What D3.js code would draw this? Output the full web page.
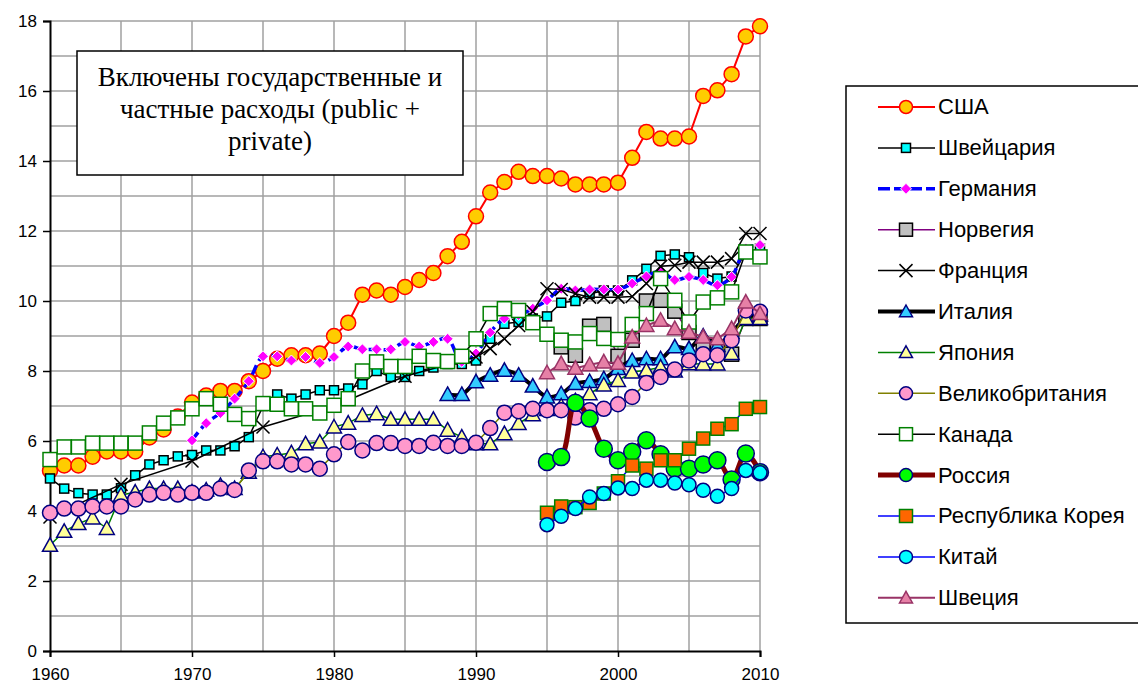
<!DOCTYPE html>
<html>
<head>
<meta charset="utf-8">
<script src="https://cdn.jsdelivr.net/npm/d3@7"></script>
<style>
  body { margin: 0; background: #fff; }
</style>
</head>
<body>
<div id="chart"></div>
<script>
// health spending, % of GDP
const xTicks = [1960, 1970, 1980, 1990, 2000, 2010];
const yTicks = [0, 2, 4, 6, 8, 10, 12, 14, 16, 18];

const usaStart = 1960;
const usa = [5.15, 5.3, 5.3, 5.55, 5.7, 5.7, 5.7, 6.1, 6.33, 6.7, 7.1, 7.3, 7.43, 7.43, 7.71, 8.0, 8.35, 8.45, 8.45, 8.5,
  9.0, 9.38, 10.18, 10.3, 10.18, 10.4, 10.6, 10.8, 11.28, 11.69, 12.42, 13.1, 13.4, 13.69, 13.57, 13.57, 13.5, 13.33, 13.33, 13.33,
  13.38, 14.09, 14.83, 14.64, 14.64, 14.7, 15.86, 16.02, 16.48, 17.56, 17.85];
const swissStart = 1960;
const swiss = [4.93, 4.64, 4.51, 4.47, 4.47, 4.65, 5.02, 5.33, 5.45, 5.56, 5.6, 5.73, 5.73, 5.85, 6.11, 7.0, 7.33, 7.21, 7.33, 7.45,
  7.45, 7.5, 7.62, 8.0, 7.83, 7.83, 8.0, 8.1, 8.2, 8.2, 8.3, 8.92, 9.35, 9.4, 9.5, 9.56, 9.95, 10.0, 10.2, 10.3,
  10.3, 10.59, 10.92, 11.29, 11.33, 11.25, 10.8, 10.64, 10.7, 11.4, 11.5];
const germanyStart = 1970;
const germany = [6.02, 6.51, 6.8, 7.21, 7.71, 8.42, 8.42, 8.3, 8.4, 8.23, 8.4, 8.7, 8.62, 8.62, 8.62, 8.83, 8.7, 8.83, 8.92, 8.26,
  8.5, 9.1, 9.5, 9.6, 9.78, 10.02, 10.35, 10.3, 10.33, 10.33, 10.33, 10.5, 10.7, 10.85, 10.6, 10.69, 10.6, 10.45, 10.69, 11.5, 11.6];
const norwayStart = 1996;
const norway = [8.69, 8.45, 9.28, 9.33, 8.42, 8.88, 10.0, 10.02, 9.71, 9.1, 8.69, 8.69, 8.48, 9.5, 9.5];
const franceYears = [1960, 1965, 1970, 1975, 1980, 1985, 1990, 1991, 1992, 1993, 1994, 1995, 1996, 1997, 1998, 1999,
  2000, 2001, 2002, 2003, 2004, 2005, 2006, 2007, 2008, 2009, 2010];
const france = [3.83, 4.76, 5.43, 6.4, 7.0, 7.85, 8.4, 8.64, 8.92, 9.3, 9.7, 10.35, 10.33, 10.21, 10.11, 10.11,
  10.11, 10.13, 10.5, 10.99, 11.02, 11.11, 11.11, 11.11, 11.21, 11.93, 11.93];
const italyStart = 1988;
const italy = [7.33, 7.33, 7.69, 7.88, 8.02, 7.88, 7.57, 7.26, 7.35, 7.64, 7.7, 7.78, 8.07, 8.3, 8.35, 8.35, 8.69, 8.64, 9.0, 8.73, 9.1, 9.5, 9.6];
const japanStart = 1960;
const japan = [3.02, 3.42, 3.64, 3.8, 3.5, 4.45, 4.54, 4.64, 4.64, 4.64, 4.54, 4.6, 4.73, 4.64, 5.11, 5.55, 5.6, 5.66, 5.92, 5.97,
  6.4, 6.51, 6.73, 6.78, 6.62, 6.62, 6.62, 6.62, 6.31, 6.11, 5.92, 5.92, 6.21, 6.5, 6.75, 6.9, 7.0, 7.15, 7.35, 7.6,
  7.73, 7.97, 8.02, 8.11, 8.0, 8.21, 8.2, 8.2, 8.5, 9.5, 9.5];
const ukStart = 1960;
const uk = [3.95, 4.07, 4.07, 4.13, 4.13, 4.13, 4.33, 4.47, 4.52, 4.47, 4.52, 4.52, 4.64, 4.6, 5.16, 5.42, 5.42, 5.33, 5.33, 5.21,
  5.62, 5.97, 5.73, 5.94, 5.94, 5.86, 5.86, 5.95, 5.86, 5.86, 5.95, 6.37, 6.81, 6.85, 6.92, 6.88, 6.88, 6.67, 6.88, 6.92,
  7.05, 7.26, 7.66, 7.83, 8.04, 8.3, 8.48, 8.45, 8.88, 9.73, 9.69];
const canadaStart = 1960;
const canada = [5.47, 5.83, 5.83, 5.94, 5.94, 5.94, 5.94, 6.23, 6.51, 6.66, 6.92, 7.21, 7.05, 6.76, 6.64, 7.07, 7.05, 6.92, 6.92, 6.8,
  7.02, 7.21, 8.0, 8.26, 8.13, 8.13, 8.42, 8.3, 8.27, 8.42, 8.92, 9.64, 9.78, 9.73, 9.38, 9.05, 8.88, 8.83, 9.07, 8.93,
  8.9, 9.33, 9.64, 10.64, 10.02, 9.4, 9.97, 10.09, 10.26, 11.4, 11.26];
const russiaStart = 1995;
const russia = [5.4, 5.54, 7.09, 6.64, 5.78, 5.45, 5.69, 6.02, 5.62, 5.21, 5.21, 5.33, 5.45, 4.9, 5.64, 5.11];
const koreaStart = 1995;
const korea = [3.95, 4.13, 4.11, 4.23, 4.5, 4.85, 5.3, 5.21, 5.45, 5.45, 5.78, 6.07, 6.35, 6.48, 6.92, 6.97];
const chinaStart = 1995;
const china = [3.61, 3.85, 4.07, 4.4, 4.5, 4.66, 4.64, 4.88, 4.88, 4.8, 4.75, 4.59, 4.42, 4.64, 5.16, 5.09];
const swedenStart = 1995;
const sweden = [7.95, 8.21, 8.08, 8.18, 8.26, 8.22, 8.97, 9.3, 9.45, 9.21, 9.11, 8.97, 8.92, 9.21, 9.97, 9.64];

const noteLines = ["Включены государственные и", "частные расходы (public +", "private)"];

function fromStart(start, vals) {
  return vals.map((v, i) => ({ year: start + i, value: v }));
}

// legend order = drawing order
const series = [
  { name: "США", data: fromStart(usaStart, usa), line: "#ff0000", lw: 2, marker: "circle", size: 7.5, fill: "#ffcc00", stroke: "#ff0000" },
  { name: "Швейцария", data: fromStart(swissStart, swiss), line: "#000000", lw: 1.5, marker: "square", size: 4.5, fill: "#00ffff", stroke: "#000000" },
  { name: "Германия", data: fromStart(germanyStart, germany), line: "#0000ff", lw: 3.5, dash: "10,5", curve: true, marker: "diamond", size: 5.5, fill: "#ff00ff", stroke: "#ffffff" },
  { name: "Норвегия", data: fromStart(norwayStart, norway), line: "#800080", lw: 1.5, marker: "square", size: 7, fill: "#c0c0c0", stroke: "#000000" },
  { name: "Франция", data: franceYears.map((yr, i) => ({ year: yr, value: france[i] })), line: "#000000", lw: 1.5, marker: "x", size: 6.5, fill: "none", stroke: "#000000" },
  { name: "Италия", data: fromStart(italyStart, italy), line: "#000000", lw: 4, curve: true, marker: "triangle", size: 7.5, fill: "#33ccff", stroke: "#000080" },
  { name: "Япония", data: fromStart(japanStart, japan), line: "#008000", lw: 1.5, marker: "triangle", size: 7.5, fill: "#ffff99", stroke: "#000080" },
  { name: "Великобритания", data: fromStart(ukStart, uk), line: "#808000", lw: 1.5, marker: "circle", size: 7.5, fill: "#ff99cc", stroke: "#000080" },
  { name: "Канада", data: fromStart(canadaStart, canada), line: "#000000", lw: 1.5, marker: "square", size: 7, fill: "#ffffff", stroke: "#008000" },
  { name: "Россия", data: fromStart(russiaStart, russia), line: "#800000", lw: 5, curve: true, marker: "circle", size: 8.5, fill: "#00ff00", stroke: "#000080" },
  { name: "Республика Корея", data: fromStart(koreaStart, korea), line: "#0000ff", lw: 1.5, marker: "square", size: 6.5, fill: "#ff6600", stroke: "#008000" },
  { name: "Китай", data: fromStart(chinaStart, china), line: "#0000ff", lw: 1.5, marker: "circle", size: 7, fill: "#00ffff", stroke: "#000080" },
  { name: "Швеция", data: fromStart(swedenStart, sweden), line: "#993366", lw: 2, marker: "triangle", size: 7.5, fill: "#e680a6", stroke: "#993366" }
];

const W = 1138, H = 684;
const plotLeft = 50, plotRight = 760, plotTop = 21, plotBottom = 651;
const sans = "'Liberation Sans', Arial, sans-serif";

const svg = d3.select("#chart").append("svg").attr("width", W).attr("height", H);

const x = d3.scaleLinear().domain([1960, 2010]).range([plotLeft, plotRight]);
const y = d3.scaleLinear().domain([0, 18]).range([plotBottom, plotTop]);

// grid
svg.append("g")
  .selectAll("line")
  .data(d3.range(1, 19))
  .enter()
  .append("line")
  .attr("x1", plotLeft).attr("x2", plotRight)
  .attr("y1", (d) => y(d)).attr("y2", (d) => y(d))
  .attr("stroke", "#a0a0a0").attr("stroke-width", 1.5);

svg.append("g")
  .selectAll("line")
  .data(d3.range(1965, 2011, 5))
  .enter()
  .append("line")
  .attr("x1", (d) => x(d)).attr("x2", (d) => x(d))
  .attr("y1", plotTop).attr("y2", plotBottom)
  .attr("stroke", "#a0a0a0").attr("stroke-width", 1.5);

// axes
const yAxis = d3.axisLeft(y).tickValues(yTicks).tickSize(7).tickPadding(6);
const gy = svg.append("g").attr("transform", "translate(" + plotLeft + ",0)").call(yAxis);
const xAxis = d3.axisBottom(x).tickValues(xTicks).tickSize(6).tickPadding(7).tickFormat(d3.format("d"));
const gx = svg.append("g").attr("transform", "translate(0," + plotBottom + ")").call(xAxis);
[gx, gy].forEach((g) => {
  g.select(".domain").attr("stroke", "#000").attr("stroke-width", 2);
  g.selectAll(".tick line").attr("stroke", "#000").attr("stroke-width", 1.5);
  g.selectAll("text").attr("font-size", 17).attr("fill", "#000").attr("font-family", sans);
});
gx.selectAll("text").attr("dy", "0.95em");

function drawMarker(g, s, cx, cy) {
  const r = s.size;
  if (s.marker === "circle") {
    g.append("circle").attr("cx", cx).attr("cy", cy).attr("r", r)
      .attr("fill", s.fill).attr("stroke", s.stroke).attr("stroke-width", 1.5);
  } else if (s.marker === "square") {
    g.append("rect").attr("x", cx - r).attr("y", cy - r).attr("width", 2 * r).attr("height", 2 * r)
      .attr("fill", s.fill).attr("stroke", s.stroke).attr("stroke-width", 1.5);
  } else if (s.marker === "triangle") {
    g.append("path")
      .attr("d", "M" + cx + "," + (cy - r) + "L" + (cx + r) + "," + (cy + r * 0.8) + "L" + (cx - r) + "," + (cy + r * 0.8) + "Z")
      .attr("fill", s.fill).attr("stroke", s.stroke).attr("stroke-width", 1.5);
  } else if (s.marker === "diamond") {
    g.append("path")
      .attr("d", "M" + cx + "," + (cy - r) + "L" + (cx + r) + "," + cy + "L" + cx + "," + (cy + r) + "L" + (cx - r) + "," + cy + "Z")
      .attr("fill", s.fill).attr("stroke", s.stroke).attr("stroke-width", 1);
  } else if (s.marker === "x") {
    g.append("path")
      .attr("d", "M" + (cx - r) + "," + (cy - r) + "L" + (cx + r) + "," + (cy + r) + "M" + (cx - r) + "," + (cy + r) + "L" + (cx + r) + "," + (cy - r))
      .attr("fill", "none").attr("stroke", s.stroke).attr("stroke-width", 1.5);
  }
}

// series
series.forEach((s) => {
  const g = svg.append("g");
  const lineGen = d3.line()
    .x((d) => x(d.year))
    .y((d) => y(d.value))
    .curve(s.curve ? d3.curveCatmullRom : d3.curveLinear);
  g.append("path")
    .datum(s.data)
    .attr("d", lineGen)
    .attr("fill", "none")
    .attr("stroke", s.line)
    .attr("stroke-width", s.lw)
    .attr("stroke-dasharray", s.dash || null)
    .attr("stroke-linejoin", "round");
  s.data.forEach((d) => drawMarker(g, s, x(d.year), y(d.value)));
});

// note box
const note = svg.append("g");
note.append("rect")
  .attr("x", 77).attr("y", 51).attr("width", 386).attr("height", 124)
  .attr("fill", "#fff").attr("stroke", "#000").attr("stroke-width", 1.5);
note.selectAll("text")
  .data(noteLines)
  .enter()
  .append("text")
  .attr("x", 270)
  .attr("y", (d, i) => 86 + i * 32)
  .attr("text-anchor", "middle")
  .attr("font-family", "'Liberation Serif', 'Times New Roman', serif")
  .attr("font-size", 27)
  .text((d) => d);

// legend
const lg = svg.append("g");
lg.append("rect")
  .attr("x", 846).attr("y", 86).attr("width", 300).attr("height", 537)
  .attr("fill", "#fff").attr("stroke", "#000").attr("stroke-width", 1.5);
series.forEach((s, i) => {
  const ly = 107 + i * 40.9;
  const item = lg.append("g");
  item.append("line")
    .attr("x1", 878).attr("x2", 935).attr("y1", ly).attr("y2", ly)
    .attr("stroke", s.line).attr("stroke-width", s.lw)
    .attr("stroke-dasharray", s.dash ? "12,4" : null);
  const ms = Object.assign({}, s, { size: Math.min(s.size, 6.5) });
  drawMarker(item, ms, 906, ly);
  item.append("text")
    .attr("x", 938).attr("y", ly)
    .attr("dy", "0.34em")
    .attr("font-size", 22)
    .attr("font-family", sans)
    .text(s.name);
});
</script>
</body>
</html>
